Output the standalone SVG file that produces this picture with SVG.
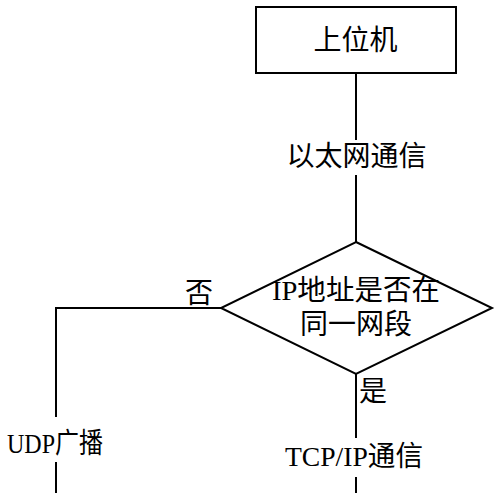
<svg xmlns="http://www.w3.org/2000/svg" width="500" height="493" viewBox="0 0 500 493">
<style>
.shape{fill:#fff;stroke:#000;stroke-width:2}
.ln{fill:none;stroke:#000;stroke-width:2}
text{font-family:"Liberation Serif","Noto Sans CJK SC",serif;font-size:28px;fill:#000;text-anchor:middle}
</style>
<rect width="500" height="493" fill="#fff"/>
<g id="connectors">
<path class="ln" d="M356 73V140M356 175V242"/>
<path class="ln" d="M221 308H56V417M56 462V493"/>
<path class="ln" d="M356 374V438M356 477V493"/>
</g>
<g id="host">
<rect class="shape" x="256" y="7" width="200" height="66"/>
<text x="355.5" y="50">上位机</text>
</g>
<g id="decision">
<polygon class="shape" points="356,242 492,308 356,374 221,308"/>
<text x="356" y="300" textLength="168" lengthAdjust="spacingAndGlyphs">IP地址是否在</text>
<text x="356" y="334">同一网段</text>
</g>
<g id="labels">
<text x="356.5" y="166">以太网通信</text>
<text x="199" y="303">否</text>
<text x="55" y="453" textLength="96" lengthAdjust="spacingAndGlyphs">UDP广播</text>
<text x="373" y="401">是</text>
<text x="354" y="466" textLength="138" lengthAdjust="spacingAndGlyphs">TCP/IP通信</text>
</g>
</svg>
